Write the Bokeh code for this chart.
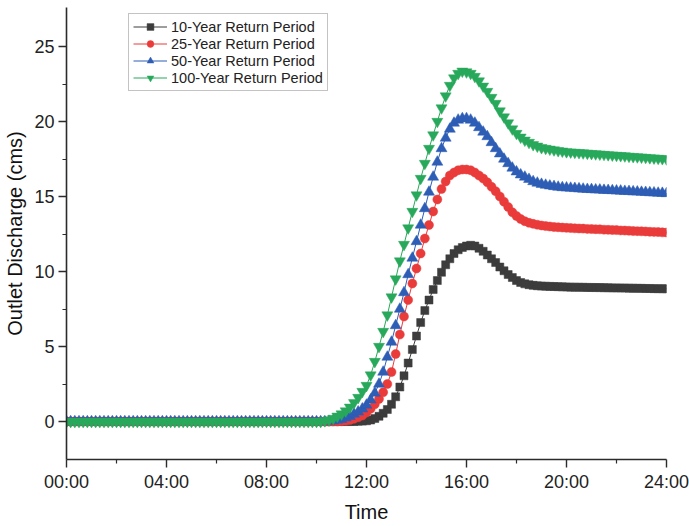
from bokeh.plotting import figure
from bokeh.models import FixedTicker, Range1d
from bokeh.embed import file_html
from bokeh.resources import INLINE

# ---------------- data (10-minute steps, 00:00 .. 24:00) ----------------
step_minutes = 10
n_points = 145
times_h = [i * step_minutes / 60 for i in range(n_points)]

zeros_before_10 = [0.0] * 60  # 00:00 .. 09:50

# values from 10:00 to 24:00, one row per hour (6 per row)
q10_tail = [
    0, 0, 0, 0, 0, 0,
    0, 0, 0, 0, 0.02, 0.03,
    0.05, 0.1, 0.2, 0.35, 0.55, 0.8,
    1.15, 1.65, 2.3, 3.05, 3.9, 4.8,
    5.7, 6.6, 7.4, 8.1, 8.8, 9.4,
    9.95, 10.45, 10.85, 11.2, 11.45, 11.6,
    11.7, 11.75, 11.7, 11.55, 11.35, 11.1,
    10.85, 10.6, 10.3, 10.05, 9.8, 9.6,
    9.4, 9.27, 9.18, 9.12, 9.08, 9.05,
    9.03, 9.02, 9.01, 9.0, 8.99, 8.98,
    8.97, 8.96, 8.96, 8.95, 8.95, 8.94,
    8.94, 8.93, 8.93, 8.92, 8.92, 8.91,
    8.91, 8.9, 8.9, 8.89, 8.89, 8.88,
    8.88, 8.87, 8.87, 8.86, 8.86, 8.85,
    8.85,
]
q25_tail = [
    0, 0, 0, 0, 0, 0,
    0.02, 0.05, 0.1, 0.18, 0.28, 0.4,
    0.6, 0.85, 1.15, 1.5, 1.95, 2.5,
    3.3, 4.5, 5.8, 7.0, 8.1, 9.2,
    10.2, 11.2, 12.2, 13.1, 14.0, 14.8,
    15.5, 16.0, 16.4, 16.6, 16.75, 16.8,
    16.8, 16.75, 16.6, 16.4, 16.2, 15.95,
    15.65, 15.35, 15.0, 14.65, 14.3, 13.95,
    13.7, 13.5, 13.35, 13.25, 13.18, 13.12,
    13.07, 13.03, 13.0, 12.97, 12.95, 12.93,
    12.91, 12.9, 12.88, 12.87, 12.86, 12.84,
    12.83, 12.82, 12.81, 12.79, 12.78, 12.77,
    12.76, 12.74, 12.73, 12.72, 12.7, 12.69,
    12.68, 12.67, 12.65, 12.64, 12.63, 12.61,
    12.6,
]
q50_tail = [
    0, 0, 0, 0.02, 0.05, 0.1,
    0.15, 0.25, 0.35, 0.5, 0.65, 0.85,
    1.1, 1.45, 1.9, 2.5, 3.3, 4.3,
    5.3, 6.4, 7.5, 8.6, 9.8, 10.9,
    12.0, 13.1, 14.2, 15.3, 16.3, 17.3,
    18.2, 18.9, 19.5, 19.9, 20.1, 20.2,
    20.2, 20.1, 19.9, 19.6, 19.3, 19.0,
    18.6, 18.2, 17.85, 17.5, 17.2, 16.9,
    16.65, 16.45, 16.3, 16.15, 16.0, 15.9,
    15.82, 15.76, 15.71, 15.67, 15.63, 15.6,
    15.58, 15.56, 15.54, 15.52, 15.5, 15.48,
    15.47, 15.45, 15.44, 15.42, 15.41, 15.4,
    15.38, 15.37, 15.35, 15.34, 15.32, 15.31,
    15.29, 15.28, 15.26, 15.25, 15.23, 15.22,
    15.2,
]
q100_tail = [
    0, 0, 0.05, 0.1, 0.2, 0.35,
    0.5, 0.7, 0.95, 1.25, 1.6, 2.0,
    2.4, 3.1, 4.0, 5.0, 6.0, 7.1,
    8.3, 9.5, 10.7, 11.8, 12.9, 14.0,
    15.1, 16.2, 17.2, 18.2, 19.1, 20.0,
    20.9, 21.7, 22.4, 22.9, 23.2, 23.35,
    23.3, 23.2, 23.0, 22.7, 22.35, 22.0,
    21.6, 21.2, 20.7, 20.3, 19.9, 19.5,
    19.2, 18.95, 18.75, 18.6, 18.45, 18.35,
    18.25, 18.2, 18.15, 18.1, 18.05, 18.02,
    17.98, 17.96, 17.94, 17.92, 17.9, 17.88,
    17.86, 17.84, 17.82, 17.8, 17.78, 17.76,
    17.74, 17.72, 17.7, 17.68, 17.66, 17.64,
    17.62, 17.6, 17.58, 17.56, 17.54, 17.52,
    17.5,
]

q10 = zeros_before_10 + q10_tail
q25 = zeros_before_10 + q25_tail
q50 = zeros_before_10 + q50_tail
q100 = zeros_before_10 + q100_tail

series_labels = ["10-Year Return Period", "25-Year Return Period",
                 "50-Year Return Period", "100-Year Return Period"]
x_tick_values = [0, 4, 8, 12, 16, 20, 24]
x_tick_labels = ["00:00", "04:00", "08:00", "12:00", "16:00", "20:00", "24:00"]
x_minor_ticks = [2, 6, 10, 14, 18, 22]
y_tick_values = [0, 5, 10, 15, 20, 25]
y_minor_ticks = [2.5, 7.5, 12.5, 17.5, 22.5]

# ---------------- figure ----------------
FONT = "Liberation Sans"
AXIS_COLOR = "#2b2b2b"

p = figure(width=689, height=526, output_backend="svg", toolbar_location=None,
           x_range=Range1d(0, 24), y_range=Range1d(-2.53, 27.6),
           min_border_left=66, min_border_right=23, min_border_top=7,
           min_border_bottom=67)
p.outline_line_color = None
p.xgrid.visible = False
p.ygrid.visible = False
p.background_fill_color = "white"

styles = [
    (q10, "#3c3c3c", "square", 8),
    (q25, "#ea3b3b", "circle", 9),
    (q50, "#2d5db5", "triangle", 11),
    (q100, "#28a85a", "inverted_triangle", 11),
]
for (vals, color, marker, size), label in zip(styles, series_labels):
    p.line(times_h, vals, line_color=color, line_width=1, legend_label=label)
    p.scatter(times_h, vals, marker=marker, size=size, fill_color=color,
              line_color=color, line_width=0.5, legend_label=label)

# axes
xa = p.xaxis[0]
xa.ticker = FixedTicker(ticks=x_tick_values, minor_ticks=x_minor_ticks)
xa.major_label_overrides = {v: s for v, s in zip(x_tick_values, x_tick_labels)}
xa.axis_label = "Time"
ya = p.yaxis[0]
ya.ticker = FixedTicker(ticks=y_tick_values, minor_ticks=y_minor_ticks)
ya.axis_label = "Outlet Discharge (cms)"

for ax in (xa, ya):
    ax.axis_line_color = AXIS_COLOR
    ax.axis_line_width = 1.6
    ax.major_tick_line_color = AXIS_COLOR
    ax.minor_tick_line_color = AXIS_COLOR
    ax.major_tick_line_width = 1.4
    ax.minor_tick_line_width = 1.2
    ax.major_tick_in = 0
    ax.major_tick_out = 8
    ax.minor_tick_in = 0
    ax.minor_tick_out = 4
    ax.major_label_text_font = FONT
    ax.major_label_text_font_size = "18px"
    ax.major_label_text_color = "#222222"
    ax.axis_label_text_font = FONT
    ax.axis_label_text_font_size = "20px"
    ax.axis_label_text_font_style = "normal"
    ax.axis_label_text_color = "#111111"

xa.major_label_standoff = 4
xa.axis_label_standoff = 6
ya.major_label_standoff = 4
ya.axis_label_standoff = 5

# legend
lg = p.legend[0]
lg.location = (62, 368)
lg.label_text_font = FONT
lg.label_text_font_size = "14.5px"
lg.label_text_color = "#222222"
lg.glyph_width = 34
lg.glyph_height = 17
lg.label_height = 17
lg.label_standoff = 4
lg.spacing = 0
lg.padding = 4
lg.margin = 0
lg.border_line_color = "#888888"
lg.border_line_width = 1
lg.background_fill_color = "white"
lg.background_fill_alpha = 1.0

open("out.html", "w").write(file_html(p, INLINE))
